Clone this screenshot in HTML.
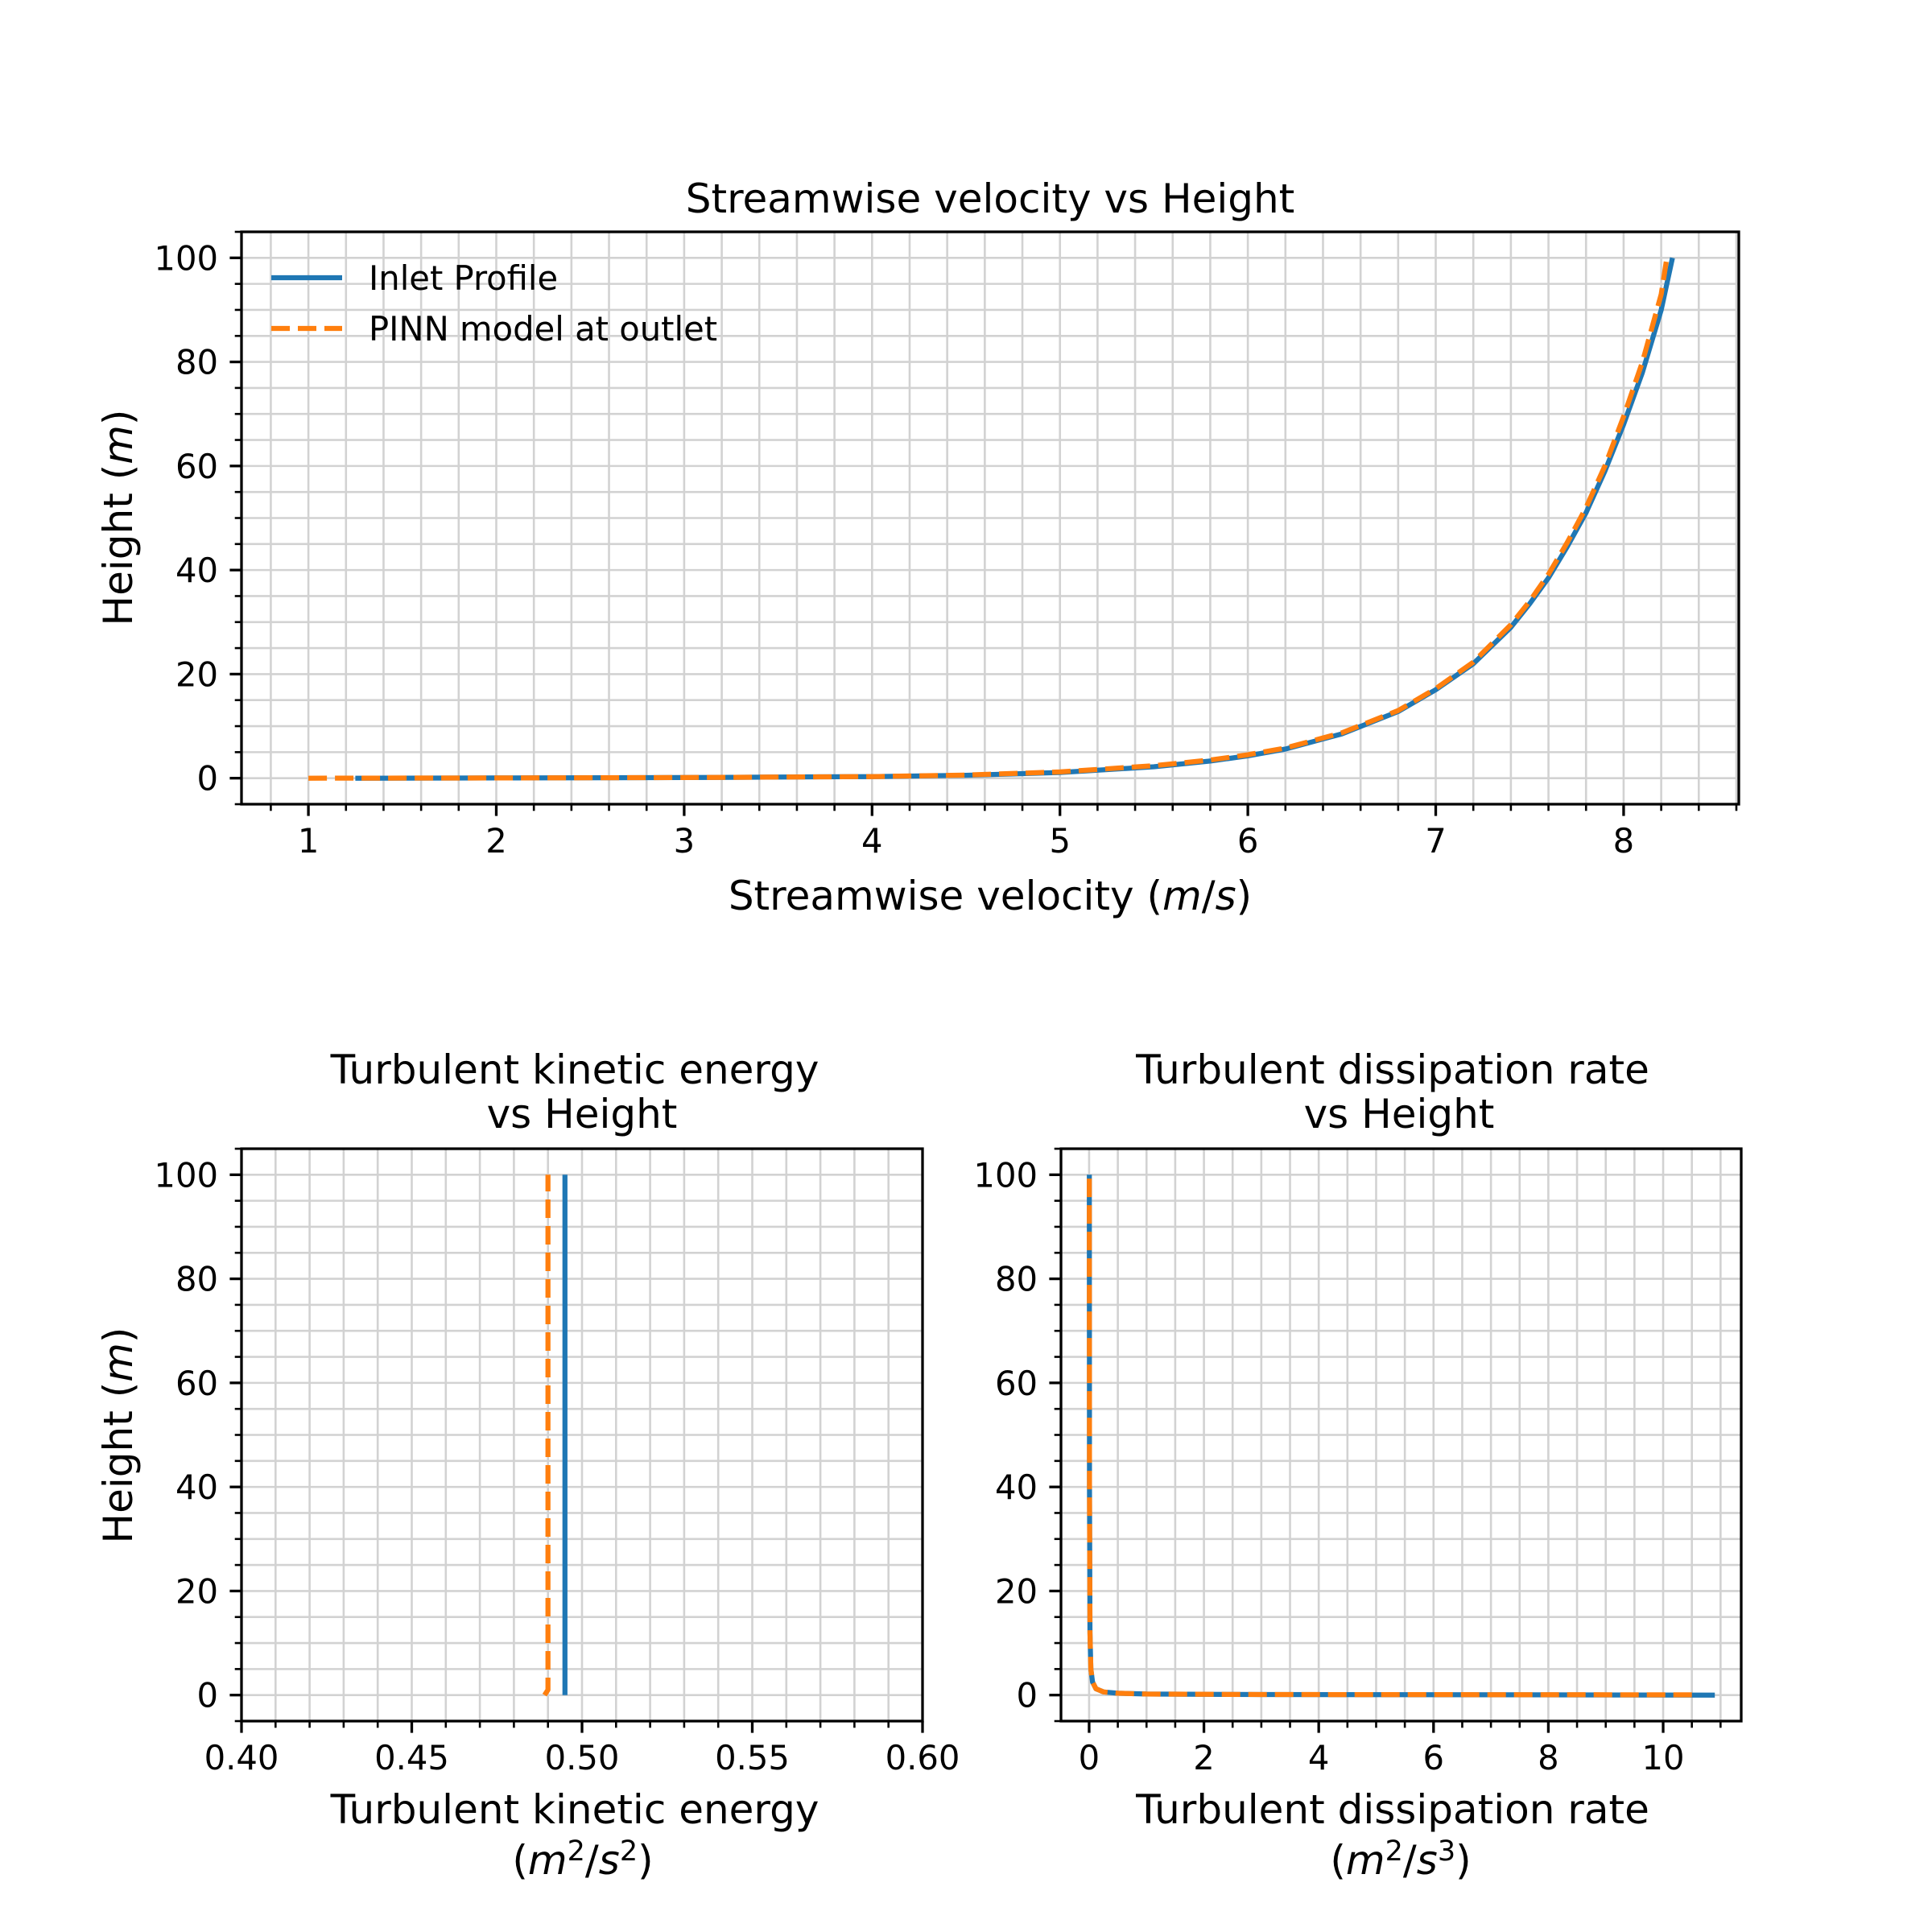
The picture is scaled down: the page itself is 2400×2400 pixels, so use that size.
<!DOCTYPE html>
<html><head><meta charset="utf-8">
<style>
html,body{margin:0;padding:0;background:#fff;}
svg{display:block;font-family:"DejaVu Sans","Liberation Sans",sans-serif;}
</style></head>
<body>
<svg id="fig" width="2400" height="2400" viewBox="0 0 2400 2400" xmlns="http://www.w3.org/2000/svg">
<rect width="2400" height="2400" fill="#fff"/>
</svg>
<script>
// ---- data ----
const velBlueX = [1.25, 2.0, 3.0, 4.0, 4.5, 5.0, 5.5, 5.8, 6.0, 6.2, 6.5, 6.8, 7.0, 7.2, 7.4, 7.5, 7.6, 7.7, 7.8, 7.9, 8.0, 8.1, 8.2, 8.26];
const velBlueY = [0, 0.05, 0.12, 0.3, 0.55, 1.1, 2.2, 3.3, 4.3, 5.6, 8.5, 12.8, 17, 22, 29, 33.5, 38.5, 44.5, 51, 59, 68, 78, 90, 100];
const velOrangeX = [1.0, 2.0, 3.0, 4.0, 4.5, 5.0, 5.5, 5.8, 6.0, 6.2, 6.5, 6.8, 7.0, 7.2, 7.4, 7.5, 7.6, 7.7, 7.8, 7.9, 8.0, 8.1, 8.2, 8.23];
const velOrangeY = [0, 0.05, 0.12, 0.3, 0.6, 1.2, 2.4, 3.5, 4.5, 5.8, 8.7, 13, 17.2, 22.3, 29.5, 34, 39.2, 45.3, 52, 60, 69.5, 80, 93, 100];
const tkeBlueX = [0.495, 0.495];
const tkeBlueY = [0, 100];
const tkeOrangeX = [0.489, 0.490, 0.490];
const tkeOrangeY = [0, 1, 100];
const epsBlueX = [10.9, 3.0, 1.0, 0.5, 0.25, 0.12, 0.06, 0.03, 0.015, 0.006, 0.003];
const epsBlueY = [0, 0.1, 0.2, 0.35, 0.6, 1.2, 2.5, 5, 12, 40, 100];
const epsOrangeX = [10.5, 3.0, 1.0, 0.5, 0.25, 0.12, 0.06, 0.03, 0.015, 0.006, 0.003];
const epsOrangeY = [0.05, 0.1, 0.2, 0.35, 0.6, 1.2, 2.5, 5, 12, 40, 100];
const velTicks = [1, 2, 3, 4, 5, 6, 7, 8];
const tkeTicks = ["0.40", "0.45", "0.50", "0.55", "0.60"];
const epsTicks = [0, 2, 4, 6, 8, 10];
const hTicks = [0, 20, 40, 60, 80, 100];

const NS = "http://www.w3.org/2000/svg";
const svg = document.getElementById("fig");
function el(tag, attrs, parent, text) {
  const e = document.createElementNS(NS, tag);
  for (const k in attrs) e.setAttribute(k, attrs[k]);
  if (text !== undefined) e.textContent = text;
  (parent || svg).appendChild(e);
  return e;
}
function makeAxes(name, x0, x1, y0, y1, xmin, xmax, ymin, ymax) {
  const g = el("g", {});
  
  
  const sx = v => x0 + (v - xmin) / (xmax - xmin) * (x1 - x0);
  const sy = v => y1 - (v - ymin) / (ymax - ymin) * (y1 - y0);
  return {g, sx, sy, x0, x1, y0, y1, xmin, xmax, ymin, ymax};
}
function grid(ax, xstep, ystep) {
  const gg = el("g", {stroke: "#d2d2d2", "stroke-width": 2.6}, ax.g);
  
  
  let s = Math.ceil(ax.xmin / xstep - 1e-9);
  for (let i = s; i * xstep <= ax.xmax + 1e-9; i++) {
    const x = ax.sx(i * xstep);
    el("line", {x1: x, x2: x, y1: ax.y0, y2: ax.y1}, gg);
    el("line", {x1: x, x2: x, y1: ax.y1, y2: ax.y1 + 8.3, stroke: "#000", "stroke-width": 2.6}, ax.g);
  }
  s = Math.ceil(ax.ymin / ystep - 1e-9);
  for (let i = s; i * ystep <= ax.ymax + 1e-9; i++) {
    const y = ax.sy(i * ystep);
    el("line", {x1: ax.x0, x2: ax.x1, y1: y, y2: y}, gg);
    el("line", {x1: ax.x0 - 8.3, x2: ax.x0, y1: y, y2: y, stroke: "#000", "stroke-width": 2.6}, ax.g);
  }
}
function ticks(ax, xt, yt) {
  xt.forEach(t => {
    const x = ax.sx(parseFloat(t));
    el("line", {x1: x, x2: x, y1: ax.y1, y2: ax.y1 + 14.6, stroke: "#000", "stroke-width": 3.3}, ax.g);
    const tx = el("text", {x: x, y: ax.y1 + 60, "font-size": 41.7, "text-anchor": "middle", fill: "#000"}, ax.g, String(t));
    
    
  });
  yt.forEach(t => {
    const y = ax.sy(t);
    el("line", {x1: ax.x0 - 14.6, x2: ax.x0, y1: y, y2: y, stroke: "#000", "stroke-width": 3.3}, ax.g);
    const ty = el("text", {x: ax.x0 - 29, y: y + 15, "font-size": 41.7, "text-anchor": "end", fill: "#000"}, ax.g, String(t));
    
    
  });
}
function line(ax, xs, ys, color, dashed, name) {
  const pts = xs.map((x, i) => ax.sx(x).toFixed(1) + "," + ax.sy(ys[i]).toFixed(1)).join(" ");
  const attrs = {points: pts, fill: "none", stroke: color, "stroke-width": 6.25, "stroke-linejoin": "round"};
  if (dashed) attrs["stroke-dasharray"] = "23,10";
  const p = el("polyline", attrs, ax.g);
  
  
}
function frame(ax) {
  const r = el("rect", {x: ax.x0, y: ax.y0, width: ax.x1 - ax.x0, height: ax.y1 - ax.y0, fill: "none", stroke: "#000", "stroke-width": 3.3}, ax.g);
  
  
}
function label(ax, txt, x, y, size, name, rot) {
  const t = el("text", {x: x, y: y, "font-size": size, "text-anchor": "middle", fill: "#000"}, ax.g);
  if (rot) t.setAttribute("transform", "rotate(-90 " + x + " " + y + ")");
  t.innerHTML = txt;
  
  
  return t;
}
const BLUE = "#1f77b4", ORANGE = "#ff7f0e";
const SUP = (d) => '<tspan dy="-17" font-size="35">' + d + '</tspan><tspan dy="17">';

// ---- top: velocity ----
const a1 = makeAxes("velocity-chart", 300, 2160, 288, 999, 0.644, 8.613, -5, 105);
grid(a1, 0.2, 5);
line(a1, velBlueX, velBlueY, BLUE, false, "inlet-profile-line");
line(a1, velOrangeX, velOrangeY, ORANGE, true, "pinn-line");
frame(a1);
ticks(a1, velTicks, hTicks);
label(a1, "Streamwise velocity vs Height", 1230, 264, 50, "velocity-title");
label(a1, 'Streamwise velocity (<tspan font-style="italic">m</tspan>/<tspan font-style="italic">s</tspan>)', 1230, 1130, 50, "velocity-x-axis-title");
label(a1, 'Height (<tspan font-style="italic">m</tspan>)', 164, 643, 50, "y-axis-title", true);
// legend
const lg = el("g", {}, a1.g);


el("line", {x1: 337, x2: 425, y1: 345, y2: 345, stroke: BLUE, "stroke-width": 6.25}, lg);
el("line", {x1: 337, x2: 425, y1: 408, y2: 408, stroke: ORANGE, "stroke-width": 6.25, "stroke-dasharray": "23,10"}, lg);
const l1 = el("text", {x: 458, y: 360, "font-size": 41.7, fill: "#000"}, lg, "Inlet Profile");


const l2 = el("text", {x: 458, y: 423, "font-size": 41.7, fill: "#000"}, lg, "PINN model at outlet");



// ---- bottom-left: TKE ----
const a2 = makeAxes("tke-chart", 300, 1146, 1427, 2138, 0.40, 0.60, -5, 105);
grid(a2, 0.01, 5);
line(a2, tkeBlueX, tkeBlueY, BLUE, false, "tke-inlet-line");
line(a2, tkeOrangeX, tkeOrangeY, ORANGE, true, "tke-pinn-line");
frame(a2);
ticks(a2, tkeTicks, hTicks);
label(a2, "Turbulent kinetic energy", 714, 1346, 50, "tke-title");
label(a2, "vs Height", 723, 1401, 50, "tke-title-line2");
label(a2, "Turbulent kinetic energy", 714, 2265, 50, "tke-x-axis-title");
label(a2, '(<tspan font-style="italic">m</tspan>' + SUP(2) + '/</tspan><tspan font-style="italic">s</tspan>' + SUP(2) + ')</tspan>', 724, 2328, 50, "tke-x-axis-unit");
label(a2, 'Height (<tspan font-style="italic">m</tspan>)', 164, 1783, 50, "y-axis-title", true);

// ---- bottom-right: dissipation ----
const a3 = makeAxes("dissipation-chart", 1318, 2163, 1427, 2138, -0.49, 11.36, -5, 105);
grid(a3, 0.5, 5);
line(a3, epsBlueX, epsBlueY, BLUE, false, "eps-inlet-line");
line(a3, epsOrangeX, epsOrangeY, ORANGE, true, "eps-pinn-line");
frame(a3);
ticks(a3, epsTicks, hTicks);
label(a3, "Turbulent dissipation rate", 1730, 1346, 50, "eps-title");
label(a3, "vs Height", 1738, 1401, 50, "eps-title-line2");
label(a3, "Turbulent dissipation rate", 1730, 2265, 50, "eps-x-axis-title");
label(a3, '(<tspan font-style="italic">m</tspan>' + SUP(2) + '/</tspan><tspan font-style="italic">s</tspan>' + SUP(3) + ')</tspan>', 1740, 2328, 50, "eps-x-axis-unit");
</script>
</body></html>
